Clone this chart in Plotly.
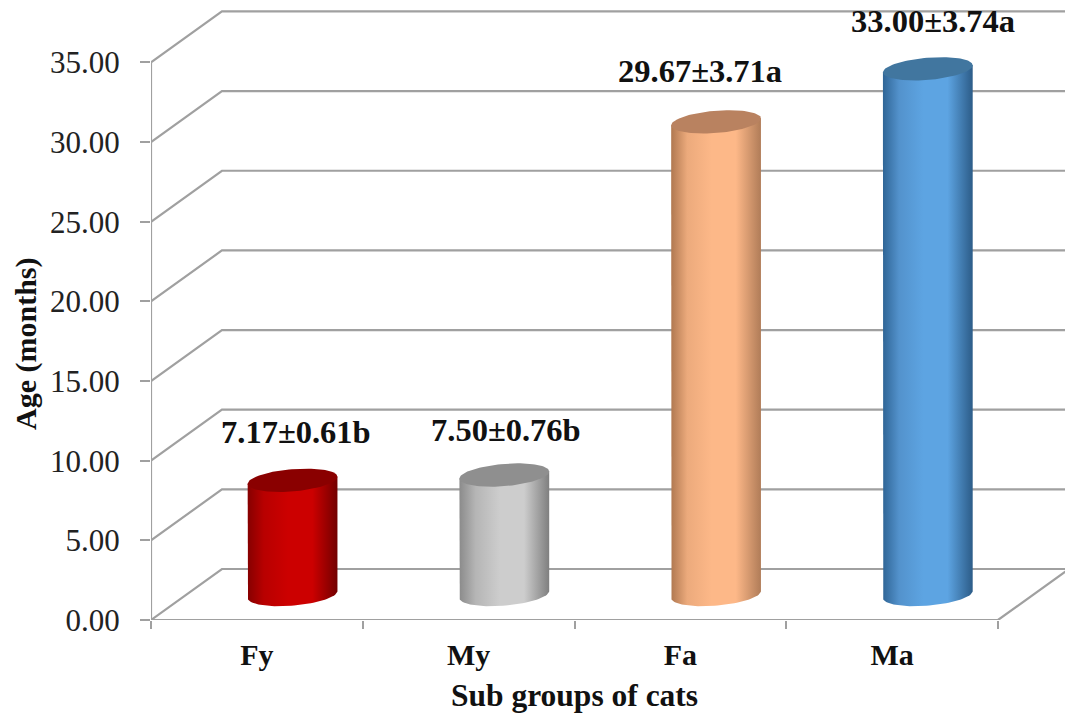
import numpy as np
import plotly.graph_objects as go

# Chart data
categories = ["Fy", "My", "Fa", "Ma"]
mean_age = [7.17, 7.50, 29.67, 33.00]
bar_labels = ["7.17±0.61b", "7.50±0.76b", "29.67±3.71a", "33.00±3.74a"]
y_ticks = [0, 5, 10, 15, 20, 25, 30, 35]

# Cylinder shading: edge, mid, highlight, cap colour
body_edge_l = ["#860000", "#8b8b8b", "#b07850", "#2f6596"]
body_mid_l = ["#b80000", "#b5b5b5", "#ecaa7c", "#5392cc"]
body_light = ["#cc0000", "#cdcdcd", "#fdb888", "#5da4e2"]
body_edge_r = ["#720000", "#7f7f7f", "#b07c58", "#2c5c88"]
cap_colour = ["#8a0000", "#8f8f8f", "#b98260", "#41769f"]

# Per-label nudges in pixels
label_dx = [3, 2, -16, 5]
label_dy = [1, -3, 3, 0]

# Projection of the oblique 3D box, in axis units
DEPTH_X, DEPTH_Y = 0.335, 3.2
CYL_A, CYL_B, CYL_TILT = 0.212, 0.7, 0.22
X_MAX, Y_MAX = 914 / 211.75, 620 / 15.93

GRID = "#a0a0a0"
SERIF = "Liberation Serif"
PLOT_W, PLOT_H = 914, 620

fig = go.Figure()

# Back wall gridlines with their side-wall returns
gx, gy = [], []
for v in y_ticks:
    gx += [0, DEPTH_X, X_MAX, None]
    gy += [v, v + DEPTH_Y, v + DEPTH_Y, None]
# Vertical axis, front floor edge and right floor edge
gx += [0, 0, None, 0, 4, 4 + DEPTH_X, None]
gy += [0, 35, None, 0, 0, DEPTH_Y, None]
fig.add_trace(go.Scatter(x=gx, y=gy, mode="lines", line=dict(color=GRID, width=2.2),
                         cliponaxis=False, hoverinfo="skip", showlegend=False))

# Cylinders: shaded body first, flat-coloured cap on top
for i, value in enumerate(mean_age):
    cx = i + 0.5 + DEPTH_X / 2 + 0.001
    base = DEPTH_Y / 2
    top = value + DEPTH_Y / 2
    t_low = np.linspace(np.pi, 2 * np.pi, 50)
    t_all = np.linspace(0, 2 * np.pi, 100)
    low_x = cx + CYL_A * np.cos(t_low)
    low_y = base + CYL_B * np.sin(t_low) + CYL_TILT * np.cos(t_low)
    body_x = [cx - CYL_A] + list(low_x) + [cx + CYL_A, cx - CYL_A]
    body_y = [top - CYL_TILT] + list(low_y) + [top + CYL_TILT, top - CYL_TILT]
    fig.add_trace(go.Scatter(
        x=body_x, y=body_y, mode="lines", line=dict(width=0), fill="toself",
        fillgradient=dict(type="horizontal", colorscale=[
            [0, body_edge_l[i]], [0.18, body_mid_l[i]], [0.45, body_light[i]],
            [0.72, body_light[i]], [1, body_edge_r[i]]]),
        hoverinfo="skip", showlegend=False))
    fig.add_trace(go.Scatter(
        x=cx + CYL_A * np.cos(t_all),
        y=top + CYL_B * np.sin(t_all) + CYL_TILT * np.cos(t_all),
        mode="lines", line=dict(width=0), fill="toself", fillcolor=cap_colour[i],
        hoverinfo="skip", showlegend=False))
    fig.add_annotation(x=cx, y=top + 3.0, text=f"<b>{bar_labels[i]}</b>", showarrow=False,
                       xshift=label_dx[i], yshift=label_dy[i],
                       font=dict(family=SERIF, size=32.5, color="#111111"))

# Axis titles sit centred on the value and category spans, not on the whole plot area
fig.add_annotation(xref="paper", yref="paper", x=(574 - 151) / PLOT_W, y=(PLOT_H - 695) / PLOT_H,
                   xanchor="center", yanchor="middle", text="<b>Sub groups of cats</b>", showarrow=False,
                   font=dict(family=SERIF, size=31.5, color="#111111"))
fig.add_annotation(xref="paper", yref="paper", x=(26 - 151) / PLOT_W, y=(PLOT_H - 344) / PLOT_H,
                   xanchor="center", yanchor="middle", text="<b>Age (months)</b>", textangle=-90, showarrow=False,
                   font=dict(family=SERIF, size=30, color="#111111"))

# Carrier for the category tick marks on the overlaid axis
fig.add_trace(go.Scatter(x=[0, 4], y=[0, 0], xaxis="x2", mode="none",
                         hoverinfo="skip", showlegend=False))

fig.update_layout(
    width=1065, height=714, margin=dict(l=151, r=0, t=0, b=94),
    paper_bgcolor="white", plot_bgcolor="white", showlegend=False,
    xaxis=dict(range=[0, X_MAX], tickvals=[0.5, 1.5, 2.5, 3.5], ticktext=[f"<b>{c}</b>" for c in categories],
               ticks="", showgrid=False, zeroline=False, showline=False, ticklabelstandoff=14,
               tickfont=dict(family=SERIF, size=30, color="#111111")),
    xaxis2=dict(range=[0, X_MAX], overlaying="x", side="bottom", tickvals=[0, 1, 2, 3, 4],
                showticklabels=False, ticks="outside", ticklen=8, tickwidth=1.5, tickcolor=GRID,
                showgrid=False, zeroline=False, showline=False),
    yaxis=dict(range=[0, Y_MAX], tickvals=y_ticks, tickformat=".2f", ticks="outside", ticklen=10,
               tickwidth=1.5, tickcolor=GRID, showgrid=False, zeroline=False, showline=False,
               ticklabelstandoff=14, tickfont=dict(family=SERIF, size=31, color="#222222")),
)

fig.write_html("out.html")
